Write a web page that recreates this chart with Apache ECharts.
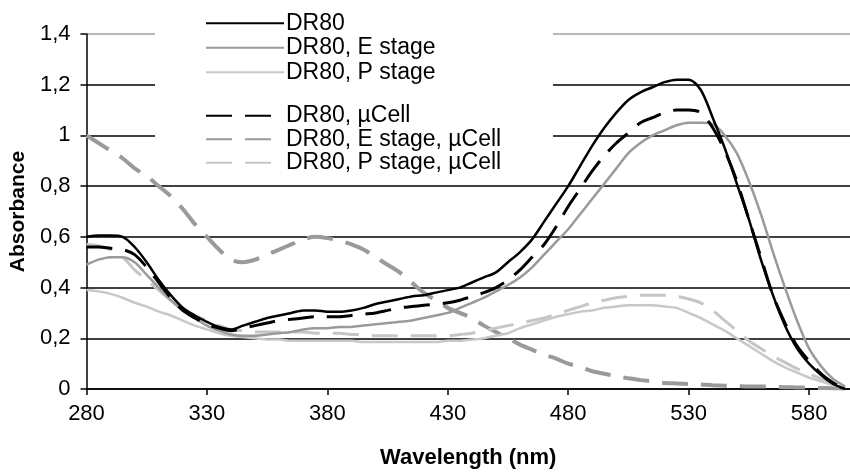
<!DOCTYPE html>
<html>
<head>
<meta charset="utf-8">
<script src="https://cdn.jsdelivr.net/npm/echarts@6/dist/echarts.min.js"></script>
<style>
html,body{margin:0;padding:0;background:#fff;}
#chart{width:850px;height:476px;}
</style>
</head>
<body>
<div id="chart"></div>
<script>
// Wavelength grid (nm)
var wavelengths = [280,285,290,295,300,305,310,315,320,325,330,335,340,345,350,355,360,365,370,375,380,385,390,395,400,405,410,415,420,425,430,435,440,445,450,455,460,465,470,475,480,485,490,495,500,505,510,515,520,525,530,535,540,545,550,555,560,565,570,575,580,585,590,595];

var seriesNames = ['DR80','DR80, E stage','DR80, P stage','DR80, µCell','DR80, E stage, µCell','DR80, P stage, µCell'];

var dr80 = [.60,.605,.605,.60,.56,.50,.43,.37,.32,.29,
  .265,.245,.235,.25,.265,.28,.29,.30,.31,.31,
  .305,.305,.31,.32,.335,.345,.355,.365,.37,.38,
  .39,.40,.42,.44,.46,.50,.54,.59,.66,.73,
  .80,.88,.96,1.03,1.09,1.14,1.17,1.19,1.21,1.22,
  1.22,1.18,1.07,.95,.81,.67,.51,.37,.25,.16,
  .10,.055,.02,0];

var dr80E = [.49,.51,.52,.52,.50,.45,.40,.35,.31,.28,
  .25,.23,.215,.21,.21,.215,.22,.225,.235,.24,
  .24,.245,.245,.25,.255,.26,.265,.27,.28,.29,
  .30,.32,.34,.36,.385,.41,.44,.48,.53,.58,
  .63,.69,.75,.81,.87,.93,.97,1.00,1.02,1.04,
  1.05,1.05,1.045,1.00,.93,.82,.69,.54,.40,.27,
  .16,.09,.04,.01];

var dr80P = [.39,.385,.375,.36,.34,.325,.305,.29,.27,.25,
  .235,.22,.21,.205,.20,.195,.195,.19,.19,.19,
  .19,.19,.19,.185,.185,.185,.185,.185,.185,.185,
  .19,.19,.195,.20,.21,.22,.24,.255,.27,.285,
  .295,.305,.31,.32,.325,.33,.33,.33,.325,.32,
  .30,.28,.255,.23,.20,.17,.14,.11,.085,.065,
  .045,.03,.015,.005];

var dr80Cell = [.56,.56,.555,.55,.53,.48,.42,.36,.31,.28,
  .255,.24,.23,.24,.25,.26,.27,.275,.28,.285,
  .285,.285,.29,.295,.30,.31,.32,.325,.33,.335,
  .34,.35,.365,.38,.40,.43,.47,.52,.57,.64,
  .72,.79,.86,.92,.97,1.01,1.05,1.07,1.09,1.10,
  1.10,1.09,1.03,.94,.82,.67,.52,.37,.26,.17,
  .11,.06,.025,0];

var dr80ECell = [1.0,.97,.94,.91,.87,.84,.80,.76,.71,.65,
  .60,.55,.51,.50,.51,.53,.55,.57,.59,.60,
  .595,.585,.57,.55,.52,.49,.46,.42,.38,.35,
  .32,.30,.28,.25,.225,.20,.175,.155,.135,.12,
  .10,.087,.07,.06,.05,.042,.035,.03,.024,.022,
  .02,.018,.015,.013,.012,.01,.01,.008,.007,.006,
  .005,.004,.003,.002];

var dr80PCell = [.57,.565,.55,.52,.47,.43,.39,.35,.32,.29,
  .27,.25,.235,.23,.225,.225,.225,.225,.225,.22,
  .22,.22,.215,.215,.21,.21,.21,.21,.21,.21,
  .21,.215,.22,.23,.24,.25,.26,.27,.28,.295,
  .31,.325,.34,.35,.36,.365,.37,.37,.37,.365,
  .355,.34,.31,.27,.23,.19,.16,.13,.105,.08,
  .06,.04,.02,.005];

var yTicks = [0,0.2,0.4,0.6,0.8,1,1.2,1.4];

function pairs(vals){ return wavelengths.map(function(w,i){ return [w, vals[i]]; }); }

var FONT = '"Liberation Sans", Arial, sans-serif';
var DASH = [26, 13];

function mk(name, vals, color, width, dashed){
  return {
    name: name, type: 'line', data: pairs(vals), symbol: 'none', smooth: 0.3,
    lineStyle: { color: color, width: width, type: dashed ? DASH : 'solid' },
    itemStyle: { color: color },
    emphasis: { disabled: true }, animation: false
  };
}

var legendCommon = {
  orient: 'vertical', left: 205, padding: 0,
  itemWidth: 78, itemHeight: 14, itemGap: 0, z: 5, selectedMode: false,
  itemStyle: { opacity: 0 },
  lineStyle: { opacity: 1 }
};

var chart = echarts.init(document.getElementById('chart'), null, {renderer: 'canvas'});
chart.setOption({
  backgroundColor: '#fff',
  animation: false,
  grid: { left: 83, right: 0, top: 34, bottom: 87, containLabel: false },
  xAxis: {
    type: 'value', min: 280, max: 597, interval: 50,
    name: 'Wavelength (nm)', nameLocation: 'middle', nameGap: 58,
    nameTextStyle: { fontFamily: FONT, fontSize: 22, fontWeight: 'bold', color: '#000' },
    axisLine: { show: true, onZero: false, lineStyle: { color: '#000', width: 1.5 } },
    axisTick: { show: true, length: 6, lineStyle: { color: '#000', width: 1.5 } },
    axisLabel: { fontFamily: FONT, fontSize: 22, color: '#000', margin: 14, showMaxLabel: false },
    splitLine: { show: false }
  },
  yAxis: {
    type: 'value', min: 0, max: 1.4, interval: 0.2,
    name: 'Absorbance', nameLocation: 'middle', nameGap: 56, nameRotate: 90,
    nameTextStyle: { fontFamily: FONT, fontSize: 21, fontWeight: 'bold', color: '#000' },
    axisLine: { show: true, lineStyle: { color: '#000', width: 1.5 } },
    axisTick: { show: true, length: 6, lineStyle: { color: '#000', width: 1.5 } },
    axisLabel: { fontFamily: FONT, fontSize: 22, color: '#000', margin: 16,
      formatter: function(v){ return String(Math.round(v*10)/10).replace('.', ','); } },
    splitLine: { show: true, lineStyle: { color: ['#000','#000','#000','#000','#000','#000','#000','#a0a0a0'], width: 1.5 } }
  },
  graphic: [{ type: 'rect', z: 3, shape: { x: 155, y: 0, width: 398, height: 172 }, style: { fill: '#fff' }, silent: true }],
  legend: [
    Object.assign({}, legendCommon, { data: seriesNames.slice(0,3), top: 11,
      textStyle: { fontFamily: FONT, fontSize: 23, color: '#000', lineHeight: 24.5, padding: [0,0,0,-3] } }),
    Object.assign({}, legendCommon, { data: seriesNames.slice(3), top: 104,
      textStyle: { fontFamily: FONT, fontSize: 23, color: '#000', lineHeight: 23.5, padding: [0,0,0,-3] } })
  ],
  series: [
    mk(seriesNames[4], dr80ECell, '#9a9a9a', 4, true),
    mk(seriesNames[5], dr80PCell, '#c6c6c6', 3, true),
    mk(seriesNames[2], dr80P, '#c8c8c8', 2.5, false),
    mk(seriesNames[1], dr80E, '#9a9a9a', 2.5, false),
    mk(seriesNames[3], dr80Cell, '#000', 3, true),
    mk(seriesNames[0], dr80, '#000', 2.5, false)
  ]
});
</script>
</body>
</html>
